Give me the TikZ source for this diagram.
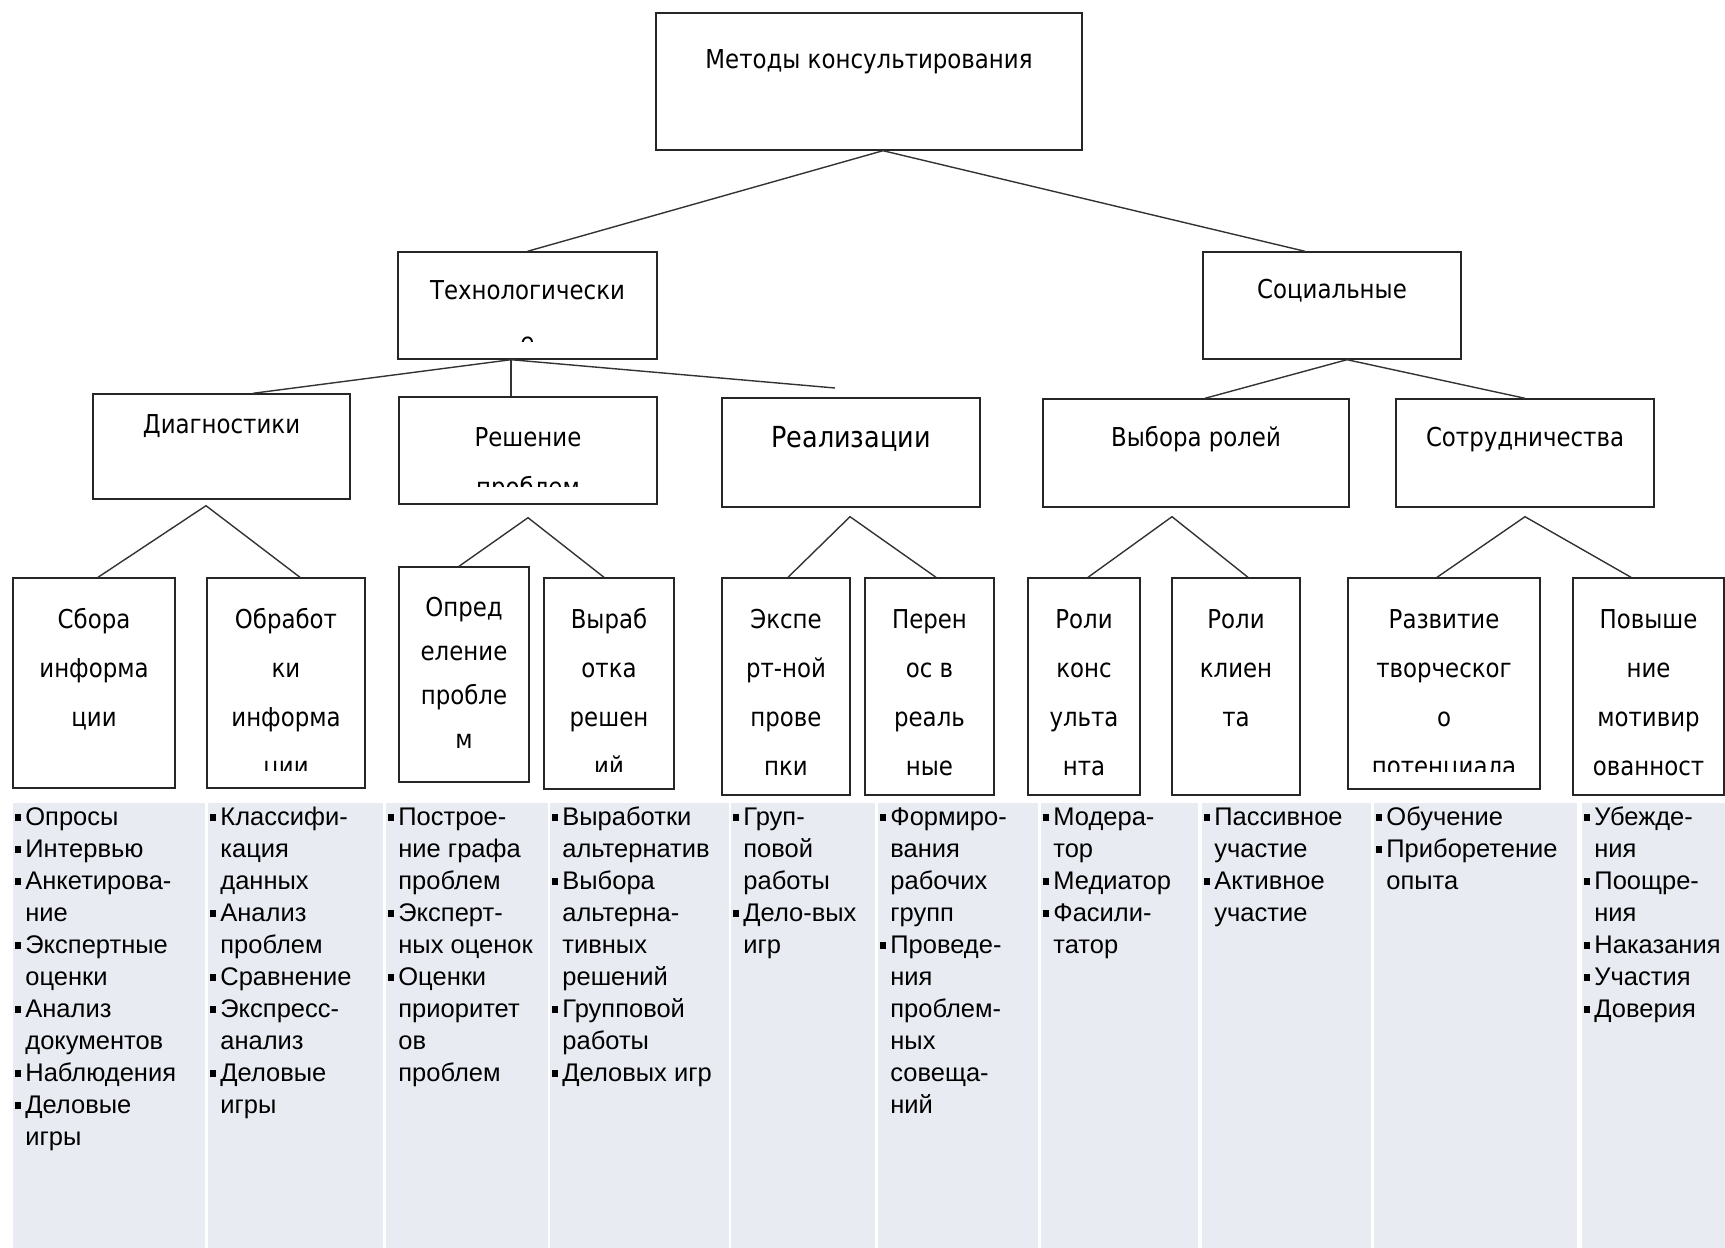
\documentclass[tikz,border=0pt]{standalone}
\usepackage{fontspec}
\setmainfont{Liberation Sans}
\newfontfamily\boxfont{DejaVu Sans}[FakeStretch=0.88]
\usepackage{tikz}
\usetikzlibrary{positioning}

\definecolor{colbg}{RGB}{232,236,242}
\newcommand\bul{\makebox[0.4em][l]{\rule[0.2em]{0.24em}{0.24em}}}
\newcommand\ind{\hspace*{0.4em}}

\begin{document}
\begin{tikzpicture}[
        x=1pt, y=-1pt,
        box/.style={draw=black!85, line width=1.4pt, fill=white, inner sep=0pt},
        inbox/.style n args={3}{path picture={
            \clip ([yshift=18]path picture bounding box.south west) rectangle (path picture bounding box.north east);
            \node[anchor=north, inner sep=0pt, minimum width=0pt, minimum height=0pt, align=center,
                  font=\boxfont\fontsize{26}{#2}\selectfont]
              at ([yshift=-#1]path picture bounding box.north) {\strut #3};}},
        link/.style={line width=1.4pt, draw=black!80},
        lst/.style={anchor=north west, inner sep=0pt, align=left, font=\fontsize{25.5}{32}\selectfont}
    ]
    \useasboundingbox (0,0) rectangle (1725,1248);
    \clip (0,0) rectangle (1725,1248);

    % columns under the tree
    \foreach \xa/\xb in {13/205, 208/383, 386/548, 550/729, 731/875, 878/1038, 1041/1198, 1202/1371, 1374/1577, 1582/1725}
        \fill[colbg] (\xa,803) rectangle (\xb,1248);

    % levels 1 and 2
    \node[box, minimum width=426, minimum height=137, inbox={20}{50}{Методы консультирования}] (top) at (869,81.5) {};
    \node[box, minimum width=259, minimum height=107, inbox={10.6}{52}{Технологически\\е}] (tech) at (527.5,305.5) {};
    \node[box, minimum width=258, minimum height=107, inbox={11}{50}{Социальные}] (soc) at (1332,305.5) {};

    % level 3
    \node[box, minimum width=257, minimum height=105, inbox={4}{50}{Диагностики}] (diag) at (221.5,446.5) {};
    \node[box, minimum width=258, minimum height=107, inbox={14}{50}{Решение\\проблем}] (resh) at (528,450.5) {};
    \node[box, minimum width=258, minimum height=109, inbox={14}{50}{\fontsize{29}{50}\selectfont Реализации}] (real) at (851,452.5) {};
    \node[box, minimum width=306, minimum height=108, inbox={12}{50}{Выбора ролей}] (vyb) at (1196,453) {};
    \node[box, minimum width=258, minimum height=108, inbox={12}{50}{Сотрудничества}] (sotr) at (1525,453) {};

    % level 4
    \node[box, minimum width=162, minimum height=210, inbox={15.7}{49}{Сбора\\информа\\ции}] (sbor) at (94,683) {};
    \node[box, minimum width=158, minimum height=210, inbox={15.7}{49}{Обработ\\ки\\информа\\ции}] (obr) at (286,683) {};
    \node[box, minimum width=130, minimum height=215, inbox={18}{44}{Опред\\еление\\пробле\\м}] (opr) at (464,674.5) {};
    \node[box, minimum width=130, minimum height=211, inbox={15.7}{49}{Выраб\\отка\\решен\\ий}] (vyr) at (609,683.5) {};
    \node[box, minimum width=128, minimum height=217, inbox={15.7}{49}{Экспе\\рт-ной\\прове\\пки}] (eksp) at (786,686.5) {};
    \node[box, minimum width=129, minimum height=217, inbox={15.7}{49}{Перен\\ос в\\реаль\\ные}] (per) at (929.5,686.5) {};
    \node[box, minimum width=112, minimum height=217, inbox={15.7}{49}{Роли\\конс\\ульта\\нта}] (rkons) at (1084,686.5) {};
    \node[box, minimum width=128, minimum height=217, inbox={15.7}{49}{Роли\\клиен\\та}] (rkl) at (1236,686.5) {};
    \node[box, minimum width=192, minimum height=211, inbox={15.7}{49}{Развитие\\творческог\\о\\потенциала}] (razv) at (1444,683.5) {};
    \node[box, minimum width=151, minimum height=217, inbox={15.7}{49}{Повыше\\ние\\мотивир\\ованност}] (pov) at (1648.5,686.5) {};

    % forks
    \coordinate (ftop) at ([xshift=14]top.south);
    \coordinate (ftech) at ([xshift=-16.5]tech.south);
    \coordinate (fsoc) at ([xshift=15]soc.south);
    \coordinate (tend) at (835,388);
    \coordinate (fdiag) at ([shift={(-15.5,6)}]diag.south);
    \coordinate (fresh) at ([shift={(0,13)}]resh.south);
    \coordinate (freal) at ([shift={(-1,9)}]real.south);
    \coordinate (fvyb) at ([shift={(-24,9)}]vyb.south);
    \coordinate (fsotr) at ([shift={(0,9)}]sotr.south);

    \draw[link] (tech.north) -- (ftop) -- ([xshift=-27]soc.north);
    \draw[link] ([xshift=31.5]diag.north) -- (ftech) -- (tend);
    \draw[link] (ftech) -- ([xshift=-17]resh.north);
    \draw[link] ([xshift=9]vyb.north) -- (fsoc) -- (sotr.north);

    \draw[link] ([xshift=4]sbor.north) -- (fdiag) -- ([xshift=14]obr.north);
    \draw[link] ([xshift=-5]opr.north) -- (fresh) -- ([xshift=-5]vyr.north);
    \draw[link] ([xshift=2]eksp.north) -- (freal) -- ([xshift=6.5]per.north);
    \draw[link] ([xshift=4]rkons.north) -- (fvyb) -- ([xshift=12]rkl.north);
    \draw[link] ([xshift=-7]razv.north) -- (fsotr) -- ([xshift=-17.5]pov.north);

    % lists
    \node[lst] (l1) at (15,803) {\strut\bul Опросы\\\bul Интервью\\\bul Анкетирова-\\\ind ние\\\bul Экспертные\\\ind оценки\\\bul Анализ\\\ind документов\\\bul Наблюдения\\\bul Деловые\\\ind игры};
    \node[lst] (l2) at (210,803) {\strut\bul Классифи-\\\ind кация\\\ind данных\\\bul Анализ\\\ind проблем\\\bul Сравнение\\\bul Экспресс-\\\ind анализ\\\bul Деловые\\\ind игры};
    \node[lst] (l3) at (388,803) {\strut\bul Построе-\\\ind ние графа\\\ind проблем\\\bul Эксперт-\\\ind ных оценок\\\bul Оценки\\\ind приоритет\\\ind ов\\\ind проблем};
    \node[lst] (l4) at (552,803) {\strut\bul Выработки\\\ind альтернатив\\\bul Выбора\\\ind альтерна-\\\ind тивных\\\ind решений\\\bul Групповой\\\ind работы\\\bul Деловых игр};
    \node[lst] (l5) at (733,803) {\strut\bul Груп-\\\ind повой\\\ind работы\\\bul Дело-вых\\\ind игр};
    \node[lst] (l6) at (880,803) {\strut\bul Формиро-\\\ind вания\\\ind рабочих\\\ind групп\\\bul Проведе-\\\ind ния\\\ind проблем-\\\ind ных\\\ind совеща-\\\ind ний};
    \node[lst] (l7) at (1043,803) {\strut\bul Модера-\\\ind тор\\\bul Медиатор\\\bul Фасили-\\\ind татор};
    \node[lst] (l8) at (1204,803) {\strut\bul Пассивное\\\ind участие\\\bul Активное\\\ind участие};
    \node[lst] (l9) at (1376,803) {\strut\bul Обучение\\\bul Приборетение\\\ind опыта};
    \node[lst] (l10) at (1584,803) {\strut\bul Убежде-\\\ind ния\\\bul Поощре-\\\ind ния\\\bul Наказания\\\bul Участия\\\bul Доверия};

\end{tikzpicture}
\end{document}
